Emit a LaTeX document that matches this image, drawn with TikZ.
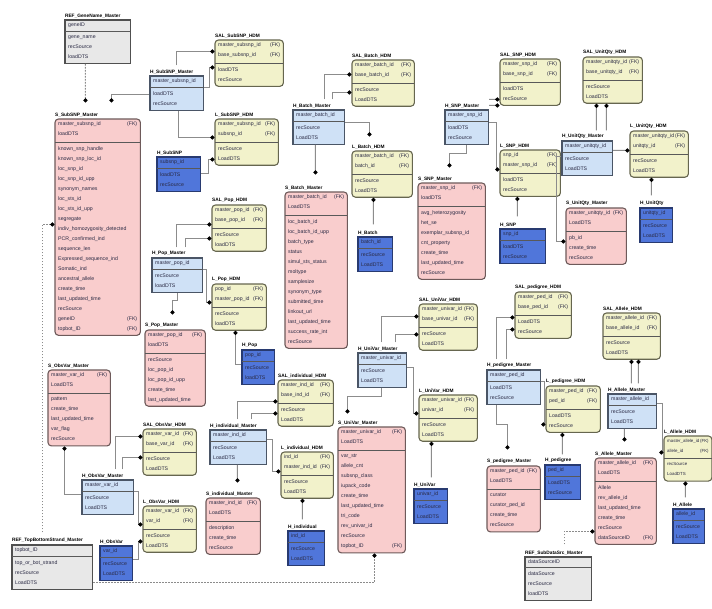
\documentclass[tikz,border=0pt]{standalone}
\usepackage{fontspec}
\setmainfont{Liberation Sans}
\usetikzlibrary{arrows.meta,fit,backgrounds}

\definecolor{satfill}{HTML}{F9CDCD}
\definecolor{satdraw}{HTML}{6E5A5A}
\definecolor{linkfill}{HTML}{F2F2CB}
\definecolor{linkdraw}{HTML}{66664F}
\definecolor{hubfill}{HTML}{CFE1F6}
\definecolor{hubdraw}{HTML}{4A5566}
\definecolor{keyfill}{HTML}{5076DA}
\definecolor{keydraw}{HTML}{283A70}
\definecolor{reffill}{HTML}{E8E8E8}
\definecolor{refdraw}{HTML}{505050}
\definecolor{rowink}{HTML}{2A2A44}
\definecolor{conncol}{HTML}{8C8C8C}

% strut giving every attribute row the same 10pt pitch
\newcommand{\rs}{\rule[-3pt]{0pt}{10pt}}
% attribute with a right-aligned foreign-key marker
\newcommand{\fk}[1]{\leavevmode\hbox to\linewidth{#1\hfill(FK)}}
% smaller rows for the narrow table at the right edge
\newcommand{\narrowrows}{\fontsize{4.4}{10}\selectfont}

\tikzset{
  rowtxt/.style={inner sep=0pt, align=left, text=rowink,
    font={\fontsize{5.2}{10}\selectfont\parindent=0pt\hyphenpenalty=10000\everypar{\rs}}},
  entitle/.style={inner sep=0.5pt, text=black, font=\bfseries\fontsize{4.8}{6}\selectfont},
  rowrule/.style={draw=black!65, line width=0.7pt},
  satbox/.style={fill=satfill, draw=satdraw, line width=1.1pt, rounded corners=3.5pt},
  linkbox/.style={fill=linkfill, draw=linkdraw, line width=1.1pt, rounded corners=3.5pt},
  hubbox/.style={fill=hubfill, draw=hubdraw, line width=1.3pt},
  keybox/.style={fill=keyfill, draw=keydraw, line width=1.3pt},
  refbox/.style={fill=reffill, draw=refdraw, line width=1.3pt},
  conn/.style={draw=conncol, line width=0.9pt, -{Circle[length=4.2pt,color=black]}},
  refconn/.style={conn, dash pattern=on 1.6pt off 1.4pt},
}

% \ent{name}{style}{x,y of top left}{width}{title}{key rows}{attribute rows}
\newcommand{\ent}[7]{%
  \coordinate (#1-o) at (#3);
  \pgfmathsetmacro{\entw}{#4-6}%
  \node[rowtxt, text width=\entw pt, anchor=north west] (#1-k) at ([shift={(3,3)}]#1-o) {#6};
  \node[rowtxt, text width=\entw pt, anchor=north west] (#1-a) at ([shift={(0,7)}]#1-k.south west) {#7};
  \coordinate (#1-c) at ([shift={(3,2)}]#1-a.south east);
  \begin{scope}[on background layer]
    \node[#2, fit=(#1-o)(#1-c), inner sep=0pt] (#1) {};
  \end{scope}
  \draw[rowrule] ([shift={(-3,3)}]#1-k.south west) -- ([shift={(3,3)}]#1-k.south east);
  \node[entitle, anchor=south west] (#1-t) at ([shift={(0,-1)}]#1.north west) {#5};
}

\begin{document}
\begin{tikzpicture}[x=1pt, y=-1pt]
\useasboundingbox (0,0) rectangle (712,608);
\begin{scope}[on background layer]
  \fill[white] (0,0) rectangle (712,608);
\end{scope}

% ---- SubSNP ----
\ent{refgene}{refbox}{65,20}{65}{REF\_GeneName\_Master}{geneID}{gene\_name\par recSource\par loadDTS}
\ent{ssubsnp}{satbox}{55,119}{85}{S\_SubSNP\_Master}{\fk{master\_subsnp\_id}\par loadDTS}{known\_snp\_handle\par known\_snp\_loc\_id\par loc\_snp\_id\par loc\_snp\_id\_upp\par synonym\_names\par loc\_sts\_id\par loc\_sts\_id\_upp\par segregate\par indiv\_homozygosity\_detected\par PCR\_confirmed\_ind\par sequence\_len\par Expressed\_sequence\_ind\par Somatic\_ind\par ancestral\_allele\par create\_time\par last\_updated\_time\par recSource\par \fk{geneID}\par \fk{topbot\_ID}}
\ent{hsubm}{hubbox}{150,76}{53}{H\_SubSNP\_Master}{master\_subsnp\_id}{loadDTS\par recSource}
\ent{salsubsnp}{linkbox}{215,40}{68}{SAL\_SubSNP\_HDM}{\fk{master\_subsnp\_id}\par \fk{base\_subsnp\_id}}{loadDTS\par recSource}
\ent{lsubsnp}{linkbox}{215,119}{63}{L\_SubSNP\_HDM}{\fk{master\_subsnp\_id}\par \fk{subsnp\_id}}{recSource\par LoadDTS}
\ent{hsub}{keybox}{157,157}{43}{H\_SubSNP}{subsnp\_id}{loadDTS\par recSource}

% ---- Batch ----
\ent{hbatchm}{hubbox}{293,110}{51}{H\_Batch\_Master}{master\_batch\_id}{recSource\par LoadDTS}
\ent{salbatch}{linkbox}{352,60}{62}{SAL\_Batch\_HDM}{\fk{master\_batch\_id}\par \fk{base\_batch\_id}}{recSource\par LoadDTS}
\ent{lbatch}{linkbox}{352,151}{60}{L\_Batch\_HDM}{\fk{master\_batch\_id}\par \fk{batch\_id}}{recSource\par LoadDTS}
\ent{sbatch}{satbox}{285,192}{62}{S\_Batch\_Master}{\fk{master\_batch\_id}\par LoadDTS}{loc\_batch\_id\par loc\_batch\_id\_upp\par batch\_type\par status\par simul\_sts\_status\par moltype\par samplesize\par synonym\_type\par submitted\_time\par linkout\_url\par last\_updated\_time\par success\_rate\_int\par recSource}
\ent{hbatch}{keybox}{358,237}{34}{H\_Batch}{batch\_id}{recSource\par LoadDTS}

% ---- SNP ----
\ent{hsnpm}{hubbox}{445,110}{43}{H\_SNP\_Master}{master\_snp\_id}{loadDTS\par recSource}
\ent{salsnp}{linkbox}{500,59}{60}{SAL\_SNP\_HDM}{\fk{master\_snp\_id}\par \fk{base\_snp\_id}}{loadDTS\par recSource}
\ent{lsnp}{linkbox}{500,150}{60}{L\_SNP\_HDM}{\fk{snp\_id}\par \fk{master\_snp\_id}}{loadDTS\par recSource}
\ent{ssnp}{satbox}{418,183}{67}{S\_SNP\_Master}{\fk{master\_snp\_id}\par loadDTS}{avg\_heterozygosity\par het\_se\par exemplar\_subsnp\_id\par cnt\_property\par create\_time\par last\_updated\_time\par recSource}
\ent{hsnp}{keybox}{500,229}{45}{H\_SNP}{snp\_id}{loadDTS\par recSource}

% ---- UnitQty ----
\ent{saluq}{linkbox}{583,57}{59}{SAL\_UnitQty\_HDM}{\fk{master\_unitqty\_id}\par \fk{base\_unitqty\_id}}{recSource\par LoadDTS}
\ent{huqm}{hubbox}{562,141}{50}{H\_UnitQty\_Master}{master\_unitqty\_id}{recSource\par LoadDTS}
\ent{luq}{linkbox}{630,131}{58}{L\_UnitQty\_HDM}{\fk{master\_unitqty\_id}\par \fk{unitqty\_id}}{recSource\par LoadDTS}
\ent{suq}{satbox}{566,208}{60}{S\_UnitQty\_Master}{\fk{master\_unitqty\_id}\par LoadDTS}{pb\_id\par create\_time\par recSource}
\ent{huq}{keybox}{640,208}{32}{H\_UnitQty}{unitqty\_id}{recSource\par LoadDTS}

% ---- Pop ----
\ent{salpop}{linkbox}{212,205}{54}{SAL\_Pop\_HDM}{\fk{master\_pop\_id}\par \fk{base\_pop\_id}}{recSource\par loadDTS}
\ent{hpopm}{hubbox}{152,258}{50}{H\_Pop\_Master}{master\_pop\_id}{recSource\par loadDTS}
\ent{lpop}{linkbox}{212,284}{54}{L\_Pop\_HDM}{\fk{pop\_id}\par \fk{master\_pop\_id}}{recSource\par loadDTS}
\ent{spop}{satbox}{145,330}{60}{S\_Pop\_Master}{\fk{master\_pop\_id}\par loadDTS}{recSource\par loc\_pop\_id\par loc\_pop\_id\_upp\par create\_time\par last\_updated\_time}
\ent{hpop}{keybox}{242,350}{32}{H\_Pop}{pop\_id}{recSource\par loadDTS}

% ---- individual ----
\ent{salind}{linkbox}{278,380}{55}{SAL\_individual\_HDM}{\fk{master\_ind\_id}\par \fk{base\_ind\_id}}{recSource\par LoadDTS}
\ent{hindm}{hubbox}{210,430}{56}{H\_individual\_Master}{master\_ind\_id}{recSource\par LoadDTS}
\ent{lind}{linkbox}{281,452}{52}{L\_individual\_HDM}{\fk{ind\_id}\par \fk{master\_ind\_id}}{recSource\par LoadDTS}
\ent{sind}{satbox}{206,498}{54}{S\_individual\_Master}{\fk{master\_ind\_id}\par LoadDTS}{description\par create\_time\par recSource}
\ent{hind}{keybox}{288,531}{36}{H\_individual}{ind\_id}{recSource\par LoadDTS}

% ---- ObsVar ----
\ent{sobs}{satbox}{48,370}{62}{S\_ObsVar\_Master}{\fk{master\_var\_id}\par LoadDTS}{pattern\par create\_time\par last\_updated\_time\par var\_flag\par recSource}
\ent{salobs}{linkbox}{143,429}{53}{SAL\_ObsVar\_HDM}{\fk{master\_var\_id}\par \fk{base\_var\_id}}{recSource\par LoadDTS}
\ent{hobsm}{hubbox}{82,480}{51}{H\_ObsVar\_Master}{master\_var\_id}{recSource\par LoadDTS}
\ent{lobs}{linkbox}{143,506}{53}{L\_ObsVar\_HDM}{\fk{master\_var\_id}\par \fk{var\_id}}{recSource\par LoadDTS}
\ent{hobs}{keybox}{100,546}{32}{H\_ObsVar}{var\_id}{recSource\par LoadDTS}
\ent{reftop}{refbox}{12,545}{80}{REF\_TopBottomStrand\_Master}{topbot\_ID}{top\_or\_bot\_strand\par recSource\par LoadDTS}

% ---- UniVar ----
\ent{saluv}{linkbox}{419,304}{58}{SAL\_UniVar\_HDM}{\fk{master\_univar\_id}\par \fk{base\_univar\_id}}{recSource\par LoadDTS}
\ent{huvm}{hubbox}{358,353}{48}{H\_UniVar\_Master}{master\_univar\_id}{recSource\par LoadDTS}
\ent{luv}{linkbox}{419,395}{58}{L\_UniVar\_HDM}{\fk{master\_univar\_id}\par \fk{univar\_id}}{recSource\par LoadDTS}
\ent{suv}{satbox}{338,427}{67}{S\_UniVar\_Master}{\fk{master\_univar\_id}\par LoadDTS}{var\_str\par allele\_cnt\par subsnp\_class\par iupack\_code\par create\_time\par last\_updated\_time\par tri\_code\par rev\_univar\_id\par recSource\par \fk{topbot\_ID}}
\ent{huv}{keybox}{414,489}{33}{H\_UniVar}{univar\_id}{recSource\par LoadDTS}

% ---- pedigree ----
\ent{salped}{linkbox}{515,292}{56}{SAL\_pedigree\_HDM}{\fk{master\_ped\_id}\par \fk{base\_ped\_id}}{LoadDTS\par recSource}
\ent{hpedm}{hubbox}{487,370}{53}{H\_pedigree\_Master}{master\_ped\_id}{LoadDTS\par recSource}
\ent{lped}{linkbox}{546,386}{54}{L\_pedigree\_HDM}{\fk{master\_ped\_id}\par \fk{ped\_id}}{LoadDTS\par recSource}
\ent{sped}{satbox}{487,466}{53}{S\_pedigree\_Master}{\fk{master\_ped\_id}\par LoadDTS}{curator\par curator\_ped\_id\par create\_time\par recSource}
\ent{hped}{keybox}{545,465}{35}{H\_pedigree}{ped\_id}{LoadDTS\par recSource}

% ---- Allele ----
\ent{salal}{linkbox}{603,313}{57}{SAL\_Allele\_HDM}{\fk{master\_allele\_id}\par \fk{base\_allele\_id}}{recSource\par LoadDTS}
\ent{halm}{hubbox}{608,394}{48}{H\_Allele\_Master}{master\_allele\_id}{recSource\par LoadDTS}
\ent{lal}{linkbox}{664,436}{47.5}{L\_Allele\_HDM}{\narrowrows\fk{master\_allele\_id}\par \fk{allele\_id}}{\narrowrows recSource\par LoadDTS}
\ent{sallele}{satbox}{595,458}{61}{S\_Allele\_Master}{\fk{master\_allele\_id}\par LoadDTS}{Allele\par rev\_allele\_id\par last\_updated\_time\par create\_time\par recSource\par \fk{dataSourceID}}
\ent{hal}{keybox}{673,509}{31}{H\_Allele}{allele\_id}{recSource\par LoadDTS}
\ent{refsds}{refbox}{525,557}{66}{REF\_SubDataSrc\_Master}{dataSourceID}{dataSource\par recSource\par loadDTS}

% ---- relationships ----
\draw[refconn] ([xshift=21pt]refgene.south west) -- ([shift={(31,-16)}]ssubsnp.north west);
\draw[conn] ([shift={(0,19)}]hsubm.north west) -| ([shift={(57,-16)}]ssubsnp.north west);
\draw[conn] ([shift={(27,-10)}]hsubm.north west) |- ([shift={(0,12)}]salsubsnp.north west);
\draw[conn] ([shift={(0,12)}]hsubm.north east) -- ++(5,0) |- ([shift={(0,28)}]salsubsnp.north west);
\draw[conn] ([xshift=29pt]hsubm.south west) |- ([shift={(0,19)}]lsubsnp.north west);
\draw[conn] ([shift={(0,17)}]hsub.north east) -- ++(7,0) |- ([shift={(0,41)}]lsubsnp.north west);

\draw[conn] ([shift={(32,-10)}]hbatchm.north west) |- ([shift={(0,15)}]salbatch.north west);
\draw[conn] ([shift={(40,-10)}]hbatchm.north west) |- ([shift={(0,33)}]salbatch.north west);
\draw[conn] ([shift={(0,13)}]hbatchm.north east) -| ([shift={(18,-14)}]lbatch.north west);
\draw[conn] ([xshift=23pt]hbatchm.south west) -- ([shift={(31,-17)}]sbatch.north west);
\draw[conn] ([shift={(16,-12)}]hbatch.north west) -- ([xshift=22pt]lbatch.south west);

\draw[conn] ([shift={(0,-10)}]hsnpm.north east) -- ([shift={(0,41)}]salsnp.north west);
\draw[conn] ([shift={(0,-4)}]hsnpm.north east) -- ([shift={(0,47)}]salsnp.north west);
\draw[conn] ([shift={(0,13)}]hsnpm.north east) -- ++(7,0) |- ([shift={(0,20)}]lsnp.north west);
\draw[conn] ([xshift=22pt]hsnpm.south west) -- ++(0,8) -| ([shift={(32,-15)}]ssnp.north west);
\draw[conn] ([shift={(18,-12)}]hsnp.north west) -- ([xshift=18pt]lsnp.south west);

\draw[conn] ([shift={(35,-10)}]huqm.north west) -- ([xshift=14pt]saluq.south west);
\draw[conn] ([shift={(45,-10)}]huqm.north west) -- ([xshift=24pt]saluq.south west);
\draw[conn] ([shift={(0,10)}]huqm.north east) -- ([shift={(0,20)}]luq.north west);
\draw[conn] ([shift={(0,16)}]huqm.north west) -- ++(-5,0) |- ([shift={(0,34)}]suq.north west);
\draw[conn] ([shift={(12,-12)}]huq.north west) -- ([xshift=22pt]luq.south west);

\draw[conn] ([shift={(25,-10)}]hpopm.north west) |- ([shift={(0,20)}]salpop.north west);
\draw[conn] ([shift={(34,-10)}]hpopm.north west) |- ([shift={(0,34)}]salpop.north west);
\draw[conn] ([shift={(0,12)}]hpopm.north east) -- ++(3,0) |- ([shift={(0,19)}]lpop.north west);
\draw[conn] ([xshift=26pt]hpopm.south west) -- ++(0,8) -| ([shift={(28,-15)}]spop.north west);
\draw[conn] ([shift={(0,15)}]hpop.north west) -| ([xshift=24pt]lpop.south west);

\draw[conn] ([shift={(28,-10)}]hindm.north west) |- ([shift={(0,22)}]salind.north west);
\draw[conn] ([shift={(42,-10)}]hindm.north west) |- ([shift={(0,34)}]salind.north west);
\draw[conn] ([shift={(0,10)}]hindm.north east) -- ++(5,0) |- ([shift={(0,20)}]lind.north west);
\draw[conn] ([xshift=28pt]hindm.south west) -- ([shift={(32,-15)}]sind.north west);
\draw[conn] ([shift={(15,-11)}]hind.north west) -- ([xshift=22pt]lind.south west);

\draw[conn] ([shift={(0,15)}]hobsm.north west) -| ([xshift=17pt]sobs.south west);
\draw[conn] ([shift={(34,-10)}]hobsm.north west) |- ([shift={(0,8)}]salobs.north west);
\draw[conn] ([shift={(41,-10)}]hobsm.north west) |- ([shift={(0,29)}]salobs.north west);
\draw[conn] ([shift={(0,12)}]hobsm.north east) -- ++(4,0) |- ([shift={(0,19)}]lobs.north west);
\draw[conn] ([shift={(0,14)}]hobs.north east) -- ++(5,0) |- ([shift={(0,36)}]lobs.north west);
\draw[refconn] ([shift={(0,38)}]reftop.north east) -| ([xshift=37pt]suv.south west);
\draw[refconn] ([shift={(31,-12)}]reftop.north west) |- ([shift={(0,106)}]ssubsnp.north west);

\draw[conn] ([shift={(24,-10)}]huvm.north west) |- ([shift={(0,13)}]saluv.north west);
\draw[conn] ([shift={(38,-10)}]huvm.north west) |- ([shift={(0,31)}]saluv.north west);
\draw[conn] ([shift={(0,15)}]huvm.north east) -- ++(6,0) |- ([shift={(0,19)}]luv.north west);
\draw[conn] ([xshift=24pt]huvm.south west) -- ++(0,9) -| ([shift={(10,-13)}]suv.north west);
\draw[conn] ([shift={(18,-11)}]huv.north west) -- ([xshift=13pt]luv.south west);

\draw[conn] ([shift={(10,-10)}]hpedm.north west) |- ([shift={(0,26)}]salped.north west);
\draw[conn] ([shift={(20,-10)}]hpedm.north west) |- ([shift={(0,38)}]salped.north west);
\draw[conn] ([shift={(0,12)}]hpedm.north east) -- ++(3,0) |- ([shift={(0,39)}]lped.north west);
\draw[conn] ([xshift=10pt]hpedm.south west) -- ++(0,19) -| ([shift={(21,-16)}]sped.north west);
\draw[conn] ([shift={(18,-10)}]hped.north west) -- ([xshift=17pt]lped.south west);

\draw[conn] ([shift={(24,-10)}]halm.north west) -- ([xshift=29pt]salal.south west);
\draw[conn] ([shift={(31,-10)}]halm.north west) -- ([xshift=36pt]salal.south west);
\draw[conn] ([shift={(0,10)}]halm.north east) -- ++(5,0) |- ([shift={(0,17)}]lal.north west);
\draw[conn] ([xshift=17pt]halm.south west) -- ([shift={(30,-16)}]sallele.north west);
\draw[conn] ([shift={(13,-11)}]hal.north west) -- ([xshift=22pt]lal.south west);
\draw[refconn] ([shift={(40,-12)}]refsds.north west) |- ([shift={(0,74)}]sallele.north west);
\end{tikzpicture}
\end{document}
